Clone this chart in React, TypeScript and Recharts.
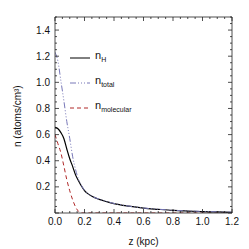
import React from "react";
import { LineChart, Line, XAxis, YAxis, Legend } from "recharts";

const zValues = [0, 0.02, 0.04, 0.06, 0.08, 0.1, 0.12, 0.14, 0.16, 0.18, 0.2, 0.22, 0.25, 0.3, 0.35, 0.4, 0.5, 0.6, 0.7, 0.8, 0.9, 1.0, 1.1, 1.2];
const nH = [0.655, 0.645, 0.615, 0.57, 0.49, 0.415, 0.355, 0.29, 0.245, 0.205, 0.172, 0.15, 0.128, 0.104, 0.087, 0.072, 0.052, 0.037, 0.028, 0.02, 0.015, 0.011, 0.008, 0.005];
const nTotal = [1.23, 1.16, 1.01, 0.86, 0.7, 0.57, 0.43, 0.33, 0.255, 0.21, 0.174, 0.151, 0.129, 0.105, 0.088, 0.073, 0.053, 0.038, 0.029, 0.021, 0.016, 0.012, 0.009, 0.006];
const nMolecular = [0.6, 0.53, 0.46, 0.36, 0.255, 0.17, 0.1, 0.045, 0.012, 0.0, 0, 0, 0, 0, 0, 0, 0, 0, 0, 0, 0, 0, 0, 0];

const xTicks = [0, 0.05, 0.1, 0.15, 0.2, 0.25, 0.3, 0.35, 0.4, 0.45, 0.5, 0.55, 0.6, 0.65, 0.7, 0.75, 0.8, 0.85, 0.9, 0.95, 1.0, 1.05, 1.1, 1.15, 1.2];
const yTicks = [0, 0.05, 0.1, 0.15, 0.2, 0.25, 0.3, 0.35, 0.4, 0.45, 0.5, 0.55, 0.6, 0.65, 0.7, 0.75, 0.8, 0.85, 0.9, 0.95, 1.0, 1.05, 1.1, 1.15, 1.2, 1.25, 1.3, 1.35, 1.4, 1.45, 1.5];

const legendItems = [
  { key: "nH", sub: "H", color: "#000000", dash: undefined as string | undefined },
  { key: "nTotal", sub: "total", color: "#7878b8", dash: "6 2 1 2 1 2 1 2" },
  { key: "nMolecular", sub: "molecular", color: "#b02828", dash: "4 3" },
];

const data = zValues.map((z, i) => ({ z, nH: nH[i], nTotal: nTotal[i], nMolecular: nMolecular[i] }));

const FONT = "'Liberation Sans', Arial, sans-serif";
const M = 5;

const isMajor = (v: number) => Math.abs(v / 0.2 - Math.round(v / 0.2)) < 1e-6;

const BottomTick = (props: any) => {
  const { x, y, payload } = props;
  const v = payload.value;
  const ay = y - M;
  const major = isMajor(v);
  return (
    <g>
      <line x1={x} y1={ay} x2={x} y2={ay - (major ? 4 : 2)} stroke="#222" strokeWidth={0.8} />
      {major && (
        <text x={x} y={ay + 12} textAnchor="middle" fontSize={10} fontFamily={FONT} fill="#111">
          {v.toFixed(1)}
        </text>
      )}
    </g>
  );
};

const TopTick = (props: any) => {
  const { x, y, payload } = props;
  const major = isMajor(payload.value);
  return <line x1={x} y1={y} x2={x} y2={y + (major ? 4 : 2)} stroke="#222" strokeWidth={0.8} />;
};

const LeftTick = (props: any) => {
  const { x, y, payload } = props;
  const v = payload.value;
  const ax = x + M;
  const major = isMajor(v);
  return (
    <g>
      <line x1={ax} y1={y} x2={ax + (major ? 4 : 2)} y2={y} stroke="#222" strokeWidth={0.8} />
      {major && v > 0.01 && (
        <text x={x} y={y + 3.5} textAnchor="end" fontSize={10} fontFamily={FONT} fill="#111">
          {v.toFixed(1)}
        </text>
      )}
    </g>
  );
};

const RightTick = (props: any) => {
  const { x, y, payload } = props;
  const major = isMajor(payload.value);
  return <line x1={x} y1={y} x2={x - (major ? 4 : 2)} y2={y} stroke="#222" strokeWidth={0.8} />;
};

const LegendContent = () => (
  <svg width={110} height={75}>
    {legendItems.map((it, i) => {
      const ry = 13 + 25 * i;
      return (
        <g key={it.key}>
          <line x1={5} y1={ry} x2={25} y2={ry} stroke={it.color} strokeWidth={1} strokeDasharray={it.dash} />
          <text x={30} y={ry + 1} fontFamily={FONT} fontSize={11} fill="#111">
            n
            <tspan fontSize={7} dy={3}>{it.sub}</tspan>
          </text>
        </g>
      );
    })}
  </svg>
);

export default function App() {
  return (
    <div style={{ position: "absolute", left: 0, top: 0, width: 249, height: 249, background: "#fff" }}>
      <LineChart width={249} height={249} data={data} margin={{ top: 16, right: 16, left: 0, bottom: 0 }}>
        <XAxis
          xAxisId="b"
          dataKey="z"
          type="number"
          domain={[0, 1.2]}
          ticks={xTicks}
          interval={0}
          tickSize={0}
          tickMargin={M}
          tick={<BottomTick />}
          height={36}
          axisLine={{ stroke: "#222", strokeWidth: 0.8 }}
          allowDataOverflow
          label={{ value: "z (kpc)", position: "insideBottom", offset: 4, fontSize: 10, fontFamily: FONT, fill: "#111" }}
        />
        <XAxis
          xAxisId="t"
          dataKey="z"
          type="number"
          orientation="top"
          domain={[0, 1.2]}
          ticks={xTicks}
          interval={0}
          tickSize={0}
          tickMargin={0}
          tick={<TopTick />}
          height={1}
          axisLine={{ stroke: "#222", strokeWidth: 0.8 }}
          allowDataOverflow
        />
        <YAxis
          yAxisId="l"
          type="number"
          domain={[0, 1.5]}
          ticks={yTicks}
          interval={0}
          tickSize={0}
          tickMargin={M}
          tick={<LeftTick />}
          width={55}
          axisLine={{ stroke: "#222", strokeWidth: 0.8 }}
          allowDataOverflow
          label={{ value: "n (atoms/cm³)", angle: -90, position: "insideLeft", offset: 17, dy: 32, fontSize: 10, fontFamily: FONT, fill: "#111" }}
        />
        <YAxis
          yAxisId="r"
          type="number"
          orientation="right"
          domain={[0, 1.5]}
          ticks={yTicks}
          interval={0}
          tickSize={0}
          tickMargin={0}
          tick={<RightTick />}
          width={1}
          axisLine={{ stroke: "#222", strokeWidth: 0.8 }}
          allowDataOverflow
        />
        <Legend
          layout="vertical"
          align="center"
          verticalAlign="middle"
          content={<LegendContent />}
          wrapperStyle={{ position: "absolute", left: 65, top: 45, width: 110, height: 75 }}
        />
        <Line xAxisId="t" yAxisId="r" dataKey="nH" type="monotone" stroke="none" strokeWidth={0} dot={false} activeDot={false} legendType="none" isAnimationActive={false} />
        <Line xAxisId="b" yAxisId="l" dataKey="nMolecular" type="monotone" stroke="#b02828" strokeWidth={1} strokeDasharray="4 3" dot={false} isAnimationActive={false} />
        <Line xAxisId="b" yAxisId="l" dataKey="nH" type="monotone" stroke="#000" strokeWidth={1.2} dot={false} isAnimationActive={false} />
        <Line xAxisId="b" yAxisId="l" dataKey="nTotal" type="monotone" stroke="#7878b8" strokeWidth={1} strokeDasharray="6 2 1 2 1 2 1 2" dot={false} isAnimationActive={false} />
      </LineChart>
    </div>
  );
}
